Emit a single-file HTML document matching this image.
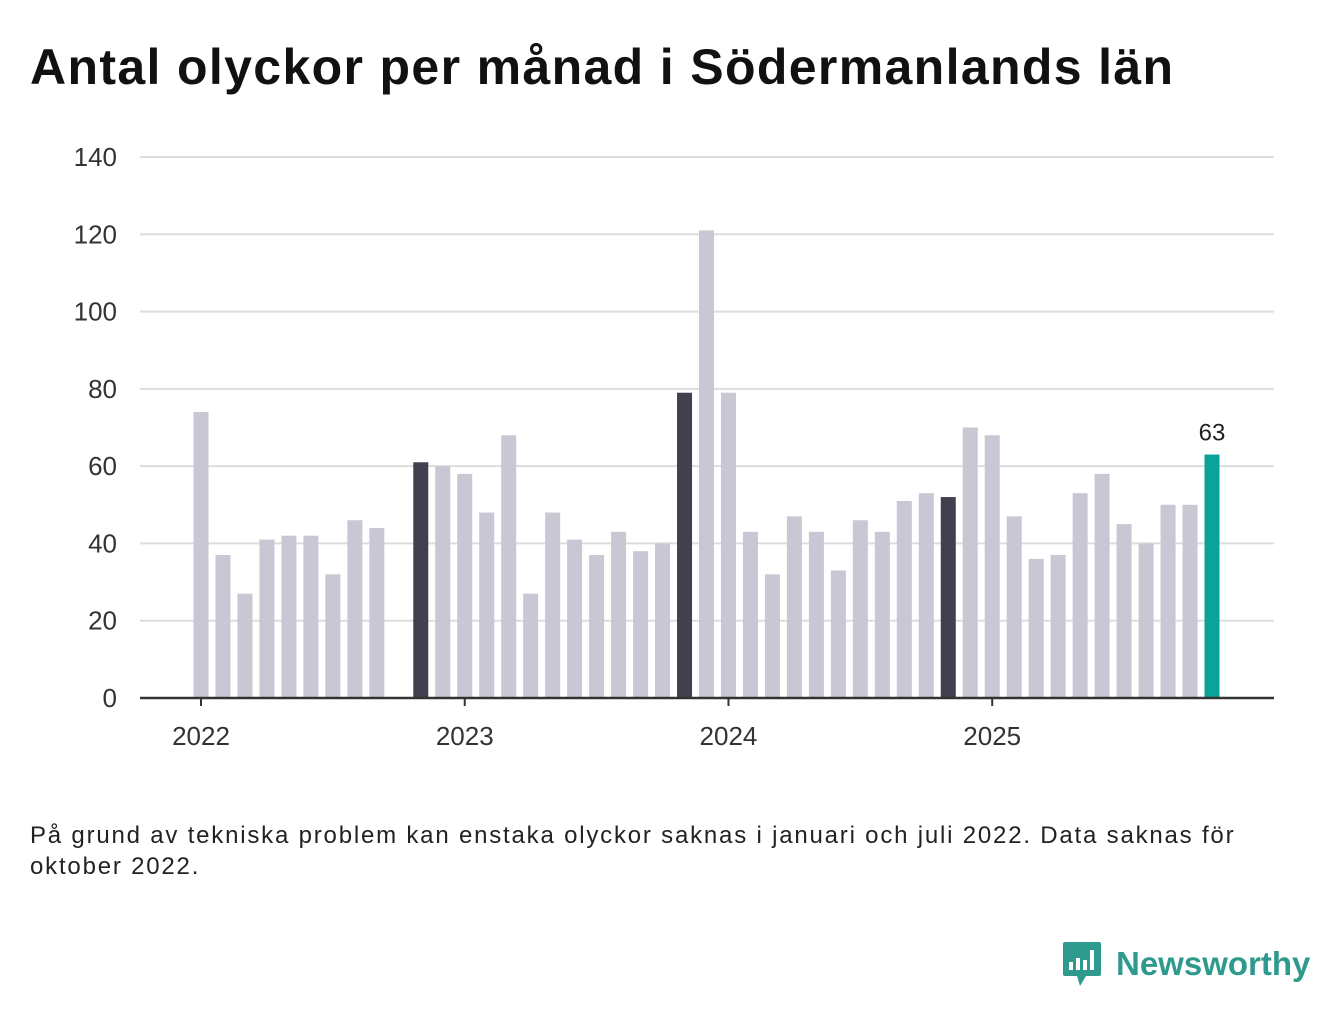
<!DOCTYPE html>
<html><head><meta charset="utf-8"><style>
body{margin:0;background:#fff;font-family:"Liberation Sans",sans-serif;}
#wrap{position:relative;width:1340px;height:1020px;overflow:hidden;}
h1{position:absolute;left:30px;top:38px;margin:0;font-size:50px;font-weight:bold;color:#111;letter-spacing:1.35px;white-space:nowrap;}
#note{position:absolute;left:30px;top:820px;font-size:24px;line-height:31px;color:#222;width:1230px;letter-spacing:1.8px;}
#logo{position:absolute;left:1062px;top:940px;display:flex;align-items:center;}
#logo span{font-size:33px;font-weight:bold;color:#2e9a8e;margin-left:14px;}
</style></head><body><div id="wrap">
<h1>Antal olyckor per månad i Södermanlands län</h1>
<svg id="chart" width="1340" height="1020" style="position:absolute;left:0;top:0"></svg>
<div id="note">På grund av tekniska problem kan enstaka olyckor saknas i januari och juli 2022. Data saknas för oktober 2022.</div>
<div id="logo">
<svg width="40" height="48" viewBox="0 0 40 48"><path d="M3 2h34a2 2 0 0 1 2 2v30a2 2 0 0 1-2 2H24l-6 10-3-10H3a2 2 0 0 1-2-2V4a2 2 0 0 1 2-2z" fill="#2e9a8e"/><rect x="7" y="22" width="4" height="8" fill="#fff"/><rect x="14" y="18" width="4" height="12" fill="#fff"/><rect x="21" y="20" width="4" height="10" fill="#fff"/><rect x="28" y="10" width="4" height="20" fill="#fff"/></svg>
<span>Newsworthy</span></div>
</div>
<script>
const values=[74,37,27,41,42,42,32,46,44,null,61,60,
58,48,68,27,48,41,37,43,38,40,79,121,
79,43,32,47,43,33,46,43,51,53,52,70,
68,47,36,37,53,58,45,40,50,50,63];
const highlight=[10,22,34];
const yTicks=[0,20,40,60,80,100,120,140];
const years=["2022","2023","2024","2025"];
const NS="http://www.w3.org/2000/svg";
const svg=document.getElementById('chart');
const x0=201,dx=(1212-201)/46,y0=698,ky=(698-157)/140;
const X=i=>x0+i*dx, Y=v=>y0-v*ky;
function mk(t,a){const e=document.createElementNS(NS,t);for(const k in a)e.setAttribute(k,a[k]);svg.appendChild(e);return e;}
yTicks.forEach(v=>{
 if(v>0){const l=mk('line',{x1:140,x2:1274,y1:Y(v),y2:Y(v),stroke:'#ddd','stroke-width':2});
 
 }
 const t=mk('text',{x:117,y:Y(v)+9,'text-anchor':'end','font-size':26,fill:'#333','font-family':'Liberation Sans, sans-serif'});
 t.textContent=v;
 
 
});
values.forEach((v,i)=>{
 if(v==null)return;
 let c='#c8c7d3';
 if(highlight.includes(i))c='#40404f';
 if(i===values.length-1)c='#0aa399';
 const r=mk('rect',{x:X(i)-7.5,y:Y(v),width:15,height:v*ky,fill:c});
 
 
});
const li=values.length-1;
const lab=mk('text',{x:X(li),y:Y(values[li])-14,'text-anchor':'middle','font-size':24,fill:'#222','font-family':'Liberation Sans, sans-serif'});
lab.textContent=values[li];


const ax=mk('line',{x1:140,x2:1274,y1:y0,y2:y0,stroke:'#333','stroke-width':2.5});


years.forEach((yr,k)=>{
 const xx=X(k*12);
 const tk=mk('line',{x1:xx,x2:xx,y1:y0,y2:y0+8,stroke:'#333','stroke-width':2});
 
 
 const t=mk('text',{x:xx,y:745,'text-anchor':'middle','font-size':26,fill:'#333','font-family':'Liberation Sans, sans-serif'});
 t.textContent=yr;
 
 
});
</script>
</body></html>
